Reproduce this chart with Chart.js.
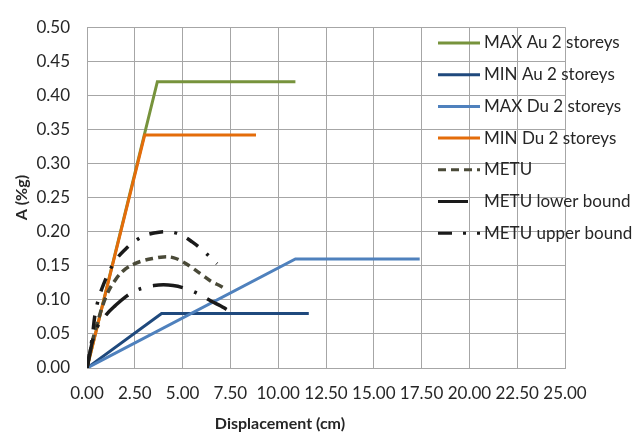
<!DOCTYPE html>
<html>
<head>
<meta charset="utf-8">
<script src="https://cdn.jsdelivr.net/npm/chart.js@4"></script>
<style>
  body { margin: 0; background: #fff; }
  #wrap { width: 637px; height: 438px; position: relative; }
</style>
</head>
<body>
<div id="wrap"><canvas id="capacityChart"></canvas></div>
<script>
// Series names (legend order)
const seriesNames = ["MAX Au 2 storeys", "MIN Au 2 storeys", "MAX Du 2 storeys", "MIN Du 2 storeys",
                     "METU", "METU lower bound", "METU upper bound"];

// Capacity curves: displacement (cm) / acceleration (%g)
const maxAuX = [0, 3.68, 10.9];
const maxAuY = [0, 0.42, 0.42];
const minAuX = [0, 3.9, 11.6];
const minAuY = [0, 0.08, 0.08];
const maxDuX = [0, 10.9, 17.4];
const maxDuY = [0, 0.16, 0.16];
const minDuX = [0, 3.02, 8.84];
const minDuY = [0, 0.342, 0.342];

// METU curves
const metuX  = [0, 0.25, 0.5, 1, 1.5, 2, 2.5, 3, 3.5, 4, 4.5, 5, 5.5, 6, 6.5, 7, 7.25];
const metuY  = [0, 0.035, 0.062, 0.105, 0.13, 0.145, 0.153, 0.158, 0.161, 0.163, 0.162, 0.156, 0.147, 0.137, 0.127, 0.12, 0.116];
const lowerX = [0, 0.25, 0.5, 1, 1.5, 2, 2.5, 3, 3.5, 4, 4.5, 5, 5.5, 6, 6.5, 7, 7.3];
const lowerY = [0, 0.035, 0.058, 0.078, 0.092, 0.104, 0.113, 0.118, 0.121, 0.122, 0.121, 0.118, 0.113, 0.106, 0.098, 0.091, 0.086];
const upperX = [0, 0.25, 0.5, 1, 1.5, 2, 2.5, 3, 3.5, 4, 4.5, 5, 5.5, 6, 6.5, 6.8];
const upperY = [0, 0.04, 0.09, 0.132, 0.158, 0.174, 0.186, 0.194, 0.198, 0.2, 0.199, 0.194, 0.185, 0.174, 0.161, 0.153];

// Axis ticks
const xTickValues = [0, 2.5, 5, 7.5, 10, 12.5, 15, 17.5, 20, 22.5, 25];
const yTickValues = [0, 0.05, 0.1, 0.15, 0.2, 0.25, 0.3, 0.35, 0.4, 0.45, 0.5];

const seriesX = [maxAuX, minAuX, maxDuX, minDuX, metuX, lowerX, upperX];
const seriesY = [maxAuY, minAuY, maxDuY, minDuY, metuY, lowerY, upperY];
const colors = ["#77933c", "#1f497d", "#4f81bd", "#e46c0a", "#4a4a38", "#1a1a1a", "#1a1a1a"];
const dashes = [[], [], [], [], [8, 5], [30, 12, 3, 12], [14, 11, 3, 11]];

const FONT = "Lato, 'Open Sans', sans-serif";

const datasets = seriesNames.map((name, i) => ({
    label: name,
    data: seriesX[i].map((x, k) => ({ x: x, y: seriesY[i][k] })),
    borderColor: colors[i],
    backgroundColor: colors[i],
    borderWidth: i >= 4 ? 3.5 : 3,
    borderDash: dashes[i],
    showLine: true,
    pointRadius: 0,
    tension: i >= 4 ? 0.4 : 0,
    fill: false,
    order: seriesNames.length - i // later series on top, like the original
}));

// Legend drawn over the plot area (right side)
const overlayLegend = {
    id: "overlayLegend",
    afterDraw(chart) {
        const ctx = chart.ctx;
        ctx.save();
        chart.data.datasets.forEach((ds, i) => {
            const y = 43 + i * 31.7;
            ctx.beginPath();
            ctx.strokeStyle = ds.borderColor;
            ctx.lineWidth = 3;
            ctx.setLineDash(ds.borderDash || []);
            ctx.moveTo(438, y);
            ctx.lineTo(480, y);
            ctx.stroke();
            ctx.setLineDash([]);
            ctx.fillStyle = "#262626";
            ctx.font = "17px " + FONT;
            ctx.textAlign = "left";
            ctx.textBaseline = "middle";
            ctx.fillText(ds.label, 484, y);
        });
        // x axis title
        ctx.font = "bold 16px " + FONT;
        ctx.textAlign = "center";
        ctx.fillText("Displacement (cm)", 280, 424);
        ctx.restore();
    }
};

const ctx = document.getElementById("capacityChart").getContext("2d");
new Chart(ctx, {
    type: "scatter",
    data: { datasets: datasets },
    options: {
        responsive: true,
        maintainAspectRatio: false,
        animation: false,
        layout: { padding: { top: 15, right: 72, left: 0, bottom: 0 } },
        plugins: {
            legend: { display: false },
            tooltip: { enabled: false }
        },
        scales: {
            x: {
                type: "linear",
                min: 0,
                max: 25,
                afterBuildTicks: scale => { scale.ticks = xTickValues.map(v => ({ value: v })); },
                afterFit: scale => { scale.height = 70; },
                ticks: {
                    padding: 15,
                    autoSkip: false,
                    maxRotation: 0,
                    color: "#262626",
                    font: { family: FONT, size: 17 },
                    callback: v => v.toFixed(2)
                },
                grid: { color: "#a6a6a6", lineWidth: 1, drawTicks: false },
                border: { color: "#a6a6a6" }
            },
            y: {
                type: "linear",
                min: 0,
                max: 0.5,
                afterBuildTicks: scale => { scale.ticks = yTickValues.map(v => ({ value: v })); },
                afterFit: scale => { scale.width = 87; },
                ticks: {
                    padding: 17,
                    autoSkip: false,
                    color: "#262626",
                    font: { family: FONT, size: 17 },
                    callback: v => v.toFixed(2)
                },
                grid: { color: "#a6a6a6", lineWidth: 1, drawTicks: false },
                border: { color: "#a6a6a6" },
                title: {
                    display: true,
                    text: "A (%g)",
                    color: "#262626",
                    font: { family: FONT, size: 16, weight: "bold" },
                    padding: { top: 12, bottom: 0 }
                }
            }
        }
    },
    plugins: [overlayLegend]
});
</script>
</body>
</html>
